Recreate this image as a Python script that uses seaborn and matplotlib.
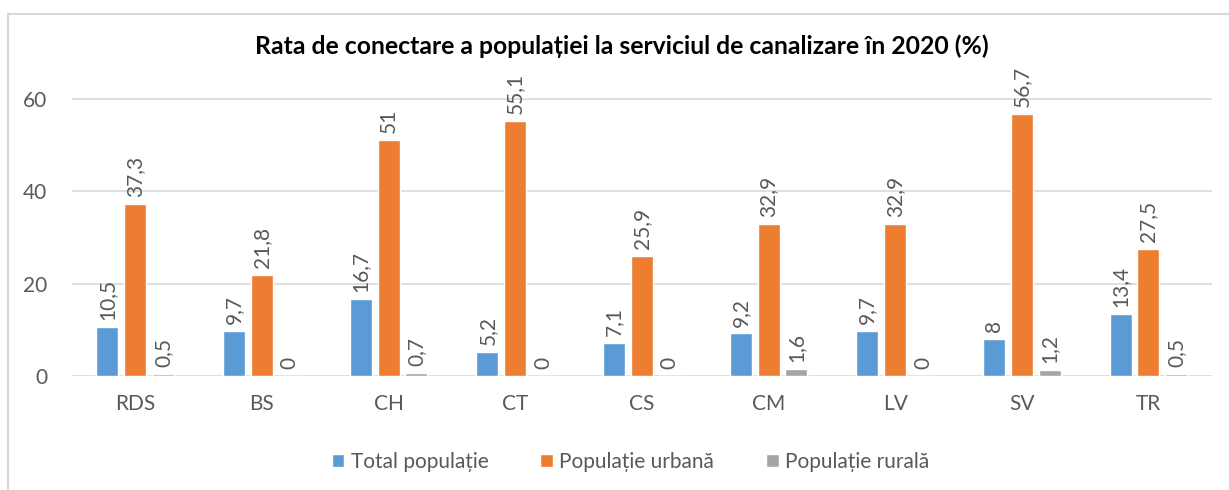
# Rata de conectare a populatiei la serviciul de canalizare (2020)
import pandas as pd
import seaborn as sns
import matplotlib.pyplot as plt
from matplotlib.patches import Rectangle

# data
regions = ['RDS', 'BS', 'CH', 'CT', 'CS', 'CM', 'LV', 'SV', 'TR']
total = [10.5, 9.7, 16.7, 5.2, 7.1, 9.2, 9.7, 8, 13.4]
urban = [37.3, 21.8, 51, 55.1, 25.9, 32.9, 32.9, 56.7, 27.5]
rural = [0.5, 0, 0.7, 0, 0, 1.6, 0, 1.2, 0.5]
series = ['Total populație', 'Populație urbană', 'Populație rurală']
colors = ['#5B9BD5', '#ED7D31', '#A5A5A5']

# long format table for seaborn
df = pd.DataFrame({
    'Regiune': regions * 3,
    'Serie': [s for s in series for _ in regions],
    'Valoare': total + urban + rural,
})

sns.set_theme(style='white')
plt.rcParams['font.family'] = ['Lato', 'DejaVu Sans']
text_gray = '#595959'
fs = 15

fig = plt.figure(figsize=(12.29, 4.9), dpi=100)
ax = fig.add_axes([0.0586, 0.2327, 0.9274, 0.6453])

sns.barplot(data=df, x='Regiune', y='Valoare', hue='Serie', palette=colors,
            saturation=1, width=0.66, gap=0.21, ax=ax, legend=True)

# value labels on top of bars, rotated like in the original
for cont in ax.containers:
    vals = [b.get_height() for b in cont]
    labels = [f'{v:g}'.replace('.', ',') for v in vals]
    ax.bar_label(cont, labels=labels, rotation=90, padding=5,
                 fontsize=fs, color=text_gray)

ax.set_ylim(0, 68.4)
ax.set_yticks([0, 20, 40, 60])
ax.yaxis.grid(True, color='#D9D9D9', linewidth=1.2)
ax.set_axisbelow(True)
for s in ax.spines.values():
    s.set_visible(False)
ax.set_xlabel('')
ax.set_ylabel('')
ax.tick_params(axis='both', length=0, labelsize=fs, labelcolor=text_gray)
ax.tick_params(axis='x', pad=13)
ax.tick_params(axis='y', pad=18)

# legend below the plot
handles, labs = ax.get_legend_handles_labels()
ax.get_legend().remove()
fig.legend(handles, labs, loc='center', bbox_to_anchor=(0.513, 0.057), ncol=3,
           frameon=False, fontsize=fs, labelcolor=text_gray,
           handlelength=0.6, handleheight=0.6, handletextpad=0.3, columnspacing=2.5)

fig.suptitle('Rata de conectare a populației la serviciul de canalizare în 2020 (%)',
             x=0.506, y=0.93, fontsize=17.8, fontweight='bold', color='black')

# light chart border (only left and top are inside the picture)
fig.patches.append(Rectangle((0.0065, -0.2), 1.2, 1.171, transform=fig.transFigure,
                             fill=False, edgecolor='#D9D9D9', linewidth=1.5))

fig.savefig('out.png', dpi=100)
